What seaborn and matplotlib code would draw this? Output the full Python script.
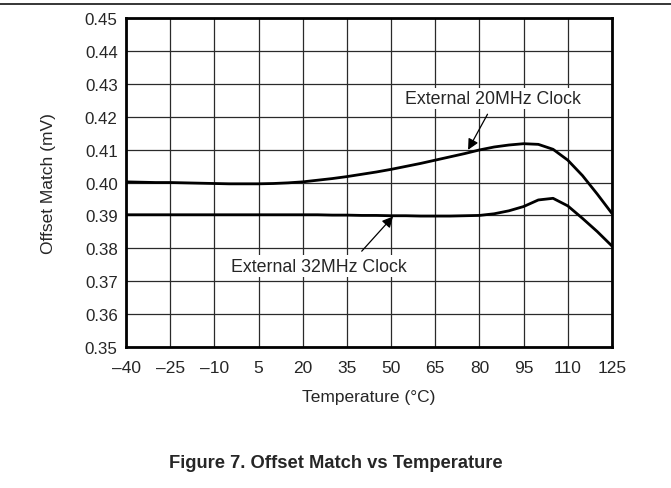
import matplotlib
matplotlib.use('Agg')
import matplotlib.pyplot as plt
from matplotlib.lines import Line2D
import seaborn as sns
import numpy as np
import pandas as pd

# temperature points (every 5 degC)
temperature = [-40, -35, -30, -25, -20, -15, -10, -5, 0, 5, 10, 15, 20, 25, 30, 35,
               40, 45, 50, 55, 60, 65, 70, 75, 80, 85, 90, 95, 100, 105, 110, 115,
               120, 125]

clock_20mhz = [0.4002, 0.4001, 0.4000, 0.4000, 0.3999, 0.3998, 0.3997, 0.3996, 0.3996,
               0.3996, 0.3997, 0.3999, 0.4002, 0.4007, 0.4012, 0.4018, 0.4025, 0.4032,
               0.4040, 0.4049, 0.4058, 0.4068, 0.4078, 0.4088, 0.4099, 0.4108, 0.4114,
               0.4118, 0.4116, 0.4101, 0.4068, 0.4021, 0.3965, 0.3906]

clock_32mhz = [0.3902, 0.3902, 0.3902, 0.3902, 0.3902, 0.3902, 0.3902, 0.3902, 0.3902,
               0.3902, 0.3902, 0.3902, 0.3902, 0.3902, 0.3901, 0.3901, 0.3900, 0.3900,
               0.3899, 0.3899, 0.3898, 0.3898, 0.3898, 0.3899, 0.3900, 0.3905, 0.3914,
               0.3927, 0.3947, 0.3952, 0.3929, 0.3891, 0.3851, 0.3807]

x_ticks = [-40, -25, -10, 5, 20, 35, 50, 65, 80, 95, 110, 125]
y_ticks = [0.35, 0.36, 0.37, 0.38, 0.39, 0.40, 0.41, 0.42, 0.43, 0.44, 0.45]

df = pd.DataFrame({
    'Temperature': temperature * 2,
    'Offset': clock_20mhz + clock_32mhz,
    'Series': ['External 20MHz Clock'] * len(temperature) + ['External 32MHz Clock'] * len(temperature),
})

sns.set_style('white')
plt.rcParams['font.family'] = ['Liberation Sans', 'DejaVu Sans']

fig = plt.figure(figsize=(6.71, 4.89), dpi=100)
ax = fig.add_axes([0.1878, 0.2883, 0.912 - 0.1878, 0.9611 - 0.2883])

sns.lineplot(data=df, x='Temperature', y='Offset', units='Series', estimator=None,
             color='black', linewidth=2.0, legend=False, ax=ax, zorder=3)

ax.set_xlim(-40, 125)
ax.set_ylim(0.35, 0.45)
ax.set_xticks(x_ticks)
ax.set_yticks(y_ticks)
ax.set_xticklabels([str(t).replace('-', '\u2013') for t in x_ticks], fontsize=12.5)
ax.set_yticklabels([f'{v:.2f}' for v in y_ticks], fontsize=12.2)
ax.tick_params(axis='x', length=0, pad=9)
ax.tick_params(axis='y', length=0, pad=6)
ax.grid(True, color='#2a2a2a', linewidth=0.9)
ax.set_axisbelow(True)
for s in ax.spines.values():
    s.set_linewidth(2.0)
    s.set_color('black')

ax.set_xlabel('Temperature (\u00b0C)', fontsize=12.5)
ax.set_ylabel('Offset Match (mV)', fontsize=12.5)
ax.xaxis.set_label_coords(0.5, -0.127)
ax.yaxis.set_label_coords(-0.145, 0.5)

arrow = dict(arrowstyle='-|>', color='black', lw=0.9, mutation_scale=16)
box = dict(facecolor='white', edgecolor='none', pad=1.5)
ax.annotate('', xy=(75.7, 0.4092), xytext=(83.2, 0.4215), arrowprops=arrow, zorder=4)
ax.text(84.5, 0.4255, 'External 20MHz Clock', fontsize=12.8, ha='center', va='center',
        bbox=box, zorder=5)
ax.annotate('', xy=(51.3, 0.3903), xytext=(39.4, 0.3785), arrowprops=arrow, zorder=4)
ax.text(25.5, 0.3746, 'External 32MHz Clock', fontsize=12.8, ha='center', va='center',
        bbox=box, zorder=5)

fig.add_artist(Line2D([0, 1], [0.99, 0.99], transform=fig.transFigure, color='black', lw=1.1))
fig.text(0.5, 0.053, 'Figure 7. Offset Match vs Temperature', ha='center', va='center',
         fontsize=13.2, fontweight='bold')

fig.savefig('out.png', dpi=100)
